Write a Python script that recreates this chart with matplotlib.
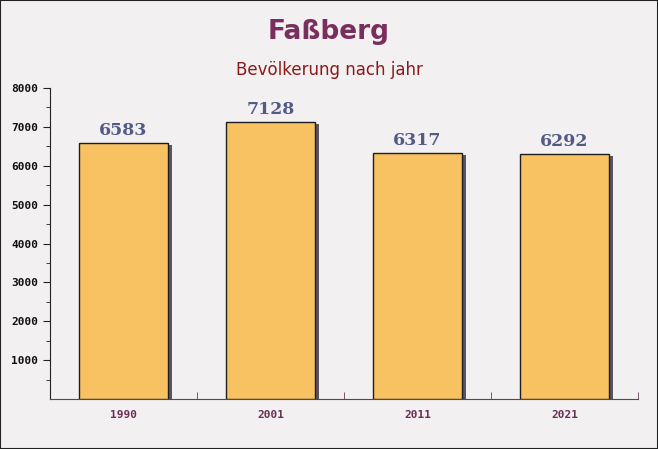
import matplotlib.pyplot as plt
import matplotlib.transforms as mtransforms
from matplotlib.patches import Rectangle

years = ["1990", "2001", "2011", "2021"]
population = [6583, 7128, 6317, 6292]

fig = plt.figure(figsize=(6.58, 4.49), dpi=100)
fig.patch.set_facecolor("#f2f0f1")
ax = fig.add_axes([50 / 658, 1 - 399 / 449, 588 / 658, 311 / 449])
ax.set_facecolor("none")

x = list(range(len(years)))

# shadow behind bars, shifted a few pixels right and up
shadow = mtransforms.offset_copy(ax.transData, fig=fig, x=4, y=4, units="dots")
ax.bar(x, population, width=0.6, bottom=-150, color="#5a5560", transform=shadow, zorder=2)
ax.bar(x, population, width=0.6, color="#f8c262", edgecolor="#1e1e1e",
       linewidth=1, zorder=3)

for xi, v in zip(x, population):
    ax.annotate(str(v), (xi, v), xytext=(0, 3), textcoords="offset points",
                ha="center", va="bottom", fontsize=12.5, fontweight="bold",
                family="DejaVu Serif", color="#525a85", zorder=4)

ax.set_xlim(-0.5, 3.5)
ax.set_ylim(0, 8000)
ax.set_yticks(range(1000, 8001, 1000))
ax.set_yticks(range(500, 8000, 1000), minor=True)
ax.set_xticks(x)
ax.set_xticklabels(years)
ax.set_xticks([0.5, 1.5, 2.5, 3.5], minor=True)

for s in ["top", "right"]:
    ax.spines[s].set_visible(False)
ax.spines["left"].set_color("#222222")
ax.spines["bottom"].set_color("#6b3a5c")

ax.tick_params(axis="y", which="both", direction="out", color="#222222",
               labelsize=8, labelcolor="#111111")
ax.tick_params(axis="y", which="major", length=5)
ax.tick_params(axis="y", which="minor", length=3)
ax.tick_params(axis="x", which="major", length=0, pad=8, labelsize=8,
               labelcolor="#6b2d55")
ax.tick_params(axis="x", which="minor", direction="in", length=5, color="#6b3a5c")
for lab in ax.get_xticklabels() + ax.get_yticklabels():
    lab.set_family("DejaVu Sans Mono")
    lab.set_fontweight("bold")

fig.text(0.5, 1 - 32 / 449, "Faßberg", ha="center", va="center",
         fontsize=19, fontweight="bold", color="#7a2e5e")
fig.text(0.5, 1 - 70 / 449, "Bevölkerung nach jahr", ha="center", va="center",
         fontsize=12, color="#8b1a1a")

fig.patches.append(Rectangle((0, 0), 1, 1, transform=fig.transFigure, fill=False,
                             edgecolor="#222222", linewidth=1.5))

fig.savefig("out.png", dpi=100, facecolor=fig.get_facecolor())
